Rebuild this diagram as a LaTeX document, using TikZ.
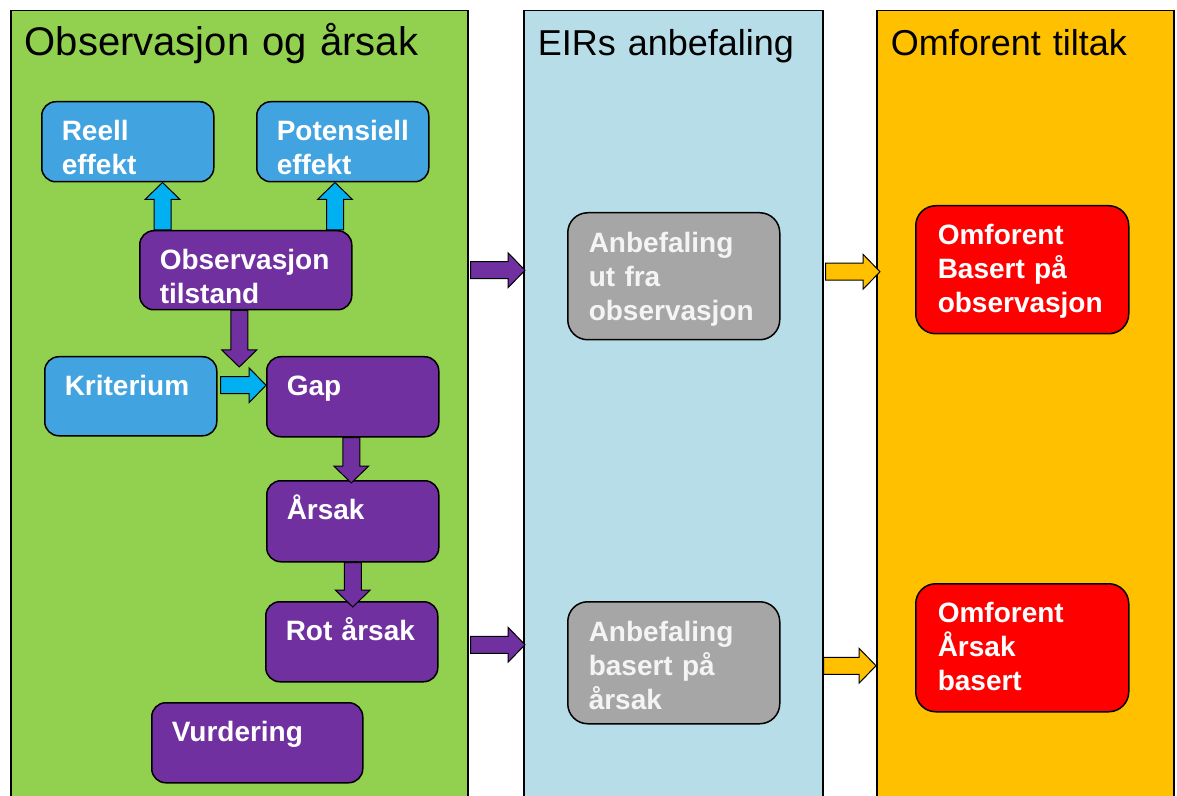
\documentclass[tikz,border=0pt]{standalone}
\usepackage{fontspec}
\setmainfont{Liberation Sans}
\usepackage{xcolor}
\usetikzlibrary{calc}

\definecolor{panelgreen}{HTML}{92D050}
\definecolor{panelblue}{HTML}{B7DEE8}
\definecolor{panelorange}{HTML}{FFC000}
\definecolor{boxblue}{HTML}{41A3DF}
\definecolor{boxpurple}{HTML}{7030A0}
\definecolor{arrowcyan}{HTML}{00B0F0}
\definecolor{advicegray}{HTML}{A6A6A6}
\definecolor{advicetext}{HTML}{F4F4F4}
\definecolor{agreedred}{HTML}{FF0000}

% block arrow: style, start, end
\newcommand{\blockarrow}[3]{%
  \coordinate (ba-s) at (#2);
  \coordinate (ba-e) at (#3);
  \coordinate (ba-c) at ($(ba-e)!8.5pt!(ba-s)$);
  \filldraw[#1] ($(ba-s)!4.25pt!90:(ba-e)$) -- ($(ba-c)!4.25pt!-90:(ba-s)$)
    -- ($(ba-c)!8.75pt!-90:(ba-s)$) -- (ba-e) -- ($(ba-c)!8.75pt!90:(ba-s)$)
    -- ($(ba-c)!4.25pt!90:(ba-s)$) -- ($(ba-s)!4.25pt!-90:(ba-e)$) -- cycle;
}

\begin{document}
\begin{tikzpicture}[x=0.5pt, y=-0.5pt,
    panel/.style={
        rectangle, draw=black, line width=0.75pt, anchor=north west,
        inner xsep=7pt, inner ysep=0pt, align=left,
        text height=22.5pt, text depth=375.5pt,
        font=\fontsize{18}{22}\selectfont
    },
    box/.style={
        rectangle, rounded corners=7pt, draw=black, line width=0.75pt,
        anchor=north west, inner xsep=10pt, inner ysep=0pt, align=left,
        text width=66pt, text height=19.5pt, text depth=20.5pt,
        text=white, font=\bfseries\fontsize{14}{17}\selectfont
    },
    effect/.style={box, fill=boxblue},
    stage/.style={box, fill=boxpurple},
    wide/.style={text width=86pt},
    advice/.style={
        box, fill=advicegray, text=advicetext, rounded corners=10pt,
        inner xsep=10.5pt, text width=85pt, text height=20pt, text depth=43.5pt
    },
    agreed/.style={
        box, fill=agreedred, rounded corners=10pt,
        inner xsep=11pt, text width=84.5pt, text depth=44.5pt
    },
    cyanarrow/.style={fill=arrowcyan, draw=black, line width=0.5pt},
    purplearrow/.style={fill=boxpurple, draw=black, line width=0.5pt},
    orangearrow/.style={fill=panelorange, draw=black, line width=0.5pt}
]

\fill[white] (0,0) rectangle (1177,796);
\useasboundingbox (0,0) rectangle (1177,796);

% kolonner
\node[panel, fill=panelgreen, text width=214.5pt, font=\fontsize{20}{24}\selectfont] (obspanel) at (10,10) {Observasjon og årsak};
\node[panel, fill=panelblue, text width=135.5pt] (recpanel) at (523,10) {EIRs anbefaling};
\node[panel, fill=panelorange, text width=134.5pt] (tiltakpanel) at (876,10) {Omforent tiltak};

% observasjon og årsak
\node[effect] (reell) at (41,101) {Reell\\effekt};
\node[effect] (potens) at (256,101) {Potensiell\\effekt};
\node[stage, wide, text depth=20pt] (obs) at (139,230) {Observasjon\\tilstand};
\node[effect, text depth=20pt] (krit) at (44,356) {Kriterium};
\node[stage] (gap) at (266,356) {Gap};
\node[stage, text depth=21pt] (arsak) at (266,480) {Årsak};
\node[stage] (rot) at (265,601) {Rot årsak};
\node[stage, text width=85.5pt] (vurd) at (151,702) {Vurdering};

% anbefaling
\node[advice] (anb1) at (567,212) {Anbefaling\\ut fra\\observasjon};
\node[advice, text depth=41pt] (anb2) at (567,601) {Anbefaling\\basert på\\årsak};

% tiltak
\node[agreed] (omf1) at (915,205) {Omforent\\Basert på\\observasjon};
\node[agreed] (omf2) at (915,583) {Omforent\\Årsak\\basert};

% piler
\blockarrow{cyanarrow}{[xshift=11.75pt]obs.north west}{ba-s |- reell.south}
\blockarrow{cyanarrow}{[xshift=-8.75pt]obs.north east}{ba-s |- potens.south}
\blockarrow{purplearrow}{[xshift=-3.25pt]obs.south}{$(ba-s |- gap.north)+(0,11)$}
\blockarrow{cyanarrow}{$(krit.east)+(3,-11)$}{ba-s -| gap.west}
\blockarrow{purplearrow}{[xshift=-0.75pt]gap.south}{$(ba-s |- arsak.north)+(0,3)$}
\blockarrow{purplearrow}{arsak.south}{$(ba-s |- rot.north)+(0,6)$}

\blockarrow{purplearrow}{$(obspanel.east |- obs.east)+(2,0)$}{$(ba-s -| recpanel.west)+(2,0)$}
\blockarrow{purplearrow}{$(obspanel.east |- rot.east)+(2,3)$}{$(ba-s -| recpanel.west)+(2,0)$}
\blockarrow{orangearrow}{$(recpanel.east |- omf1.west)+(2,2)$}{$(ba-s -| tiltakpanel.west)+(4,0)$}
\blockarrow{orangearrow}{$(recpanel.east |- anb2.east)+(0,3)$}{ba-s -| tiltakpanel.west}

\end{tikzpicture}
\end{document}
